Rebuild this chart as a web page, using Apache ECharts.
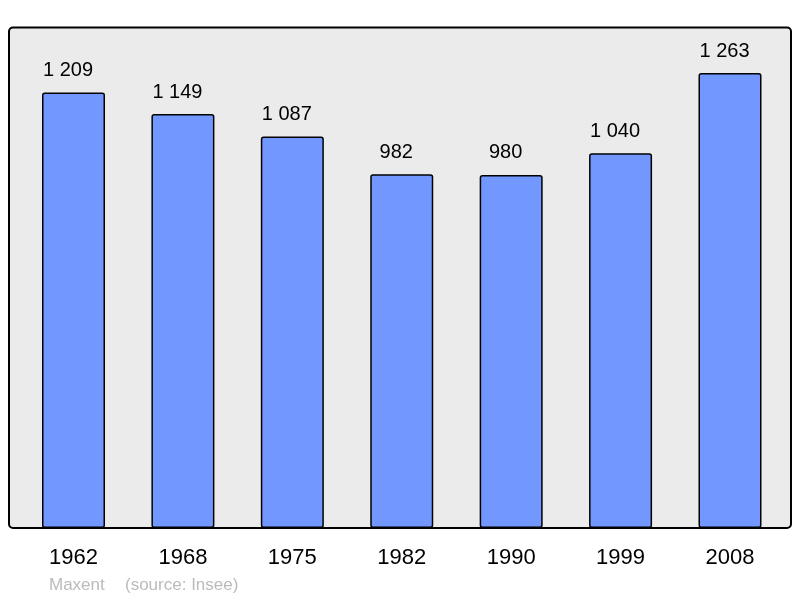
<!DOCTYPE html>
<html><head><meta charset="utf-8">
<script src="https://cdn.jsdelivr.net/npm/echarts@6/dist/echarts.min.js"></script>
<style>html,body{margin:0;padding:0;background:#fff}#c{width:800px;height:598px}</style>
</head><body><div id="c"></div>
<script>
const years = ['1962','1968','1975','1982','1990','1999','2008'];
const population = [1209,1149,1087,982,980,1040,1263];
const creditAuthor = 'Maxent';
const creditSource = '(source: Insee)';

const fmt = v => String(v).replace(/\B(?=(\d{3})+(?!\d))/g, ' ');
const FONT = '"Liberation Sans", Arial, sans-serif';
const chart = echarts.init(document.getElementById('c'));
chart.setOption({
  animation: false,
  backgroundColor: '#fff',
  graphic: [
    {type:'rect', z:-10, shape:{x:9,y:27.5,width:782,height:500.5,r:4}, style:{fill:'#ebebeb',stroke:'#000',lineWidth:2}},
    {type:'text', x:49, y:585, style:{text:creditAuthor, fill:'#bbbbbb', font:'17px ' + FONT, textVerticalAlign:'middle'}},
    {type:'text', x:125, y:585, style:{text:creditSource, fill:'#bbbbbb', font:'17px ' + FONT, textVerticalAlign:'middle'}}
  ],
  grid: {left:18.8, right:15.3, top:27.5, bottom:70},
  xAxis: {
    type:'category', data: years,
    axisLine:{show:false}, axisTick:{show:false},
    axisLabel:{color:'#000', fontSize:22, fontFamily:FONT, margin:19}
  },
  yAxis: {
    type:'value', min:0, max: v => v.max*1.1,
    show:false, splitLine:{show:false}
  },
  series: [{
    type:'bar', data: population, barWidth:63,
    itemStyle:{color:'#7298ff', borderColor:'#000', borderWidth:1.5, borderRadius:2},
    label:{show:true, position:'top', distance:12, offset:[-5.5,0], color:'#000', fontSize:20,
      fontFamily:FONT, formatter: p => fmt(p.value)}
  }]
});
</script></body></html>
